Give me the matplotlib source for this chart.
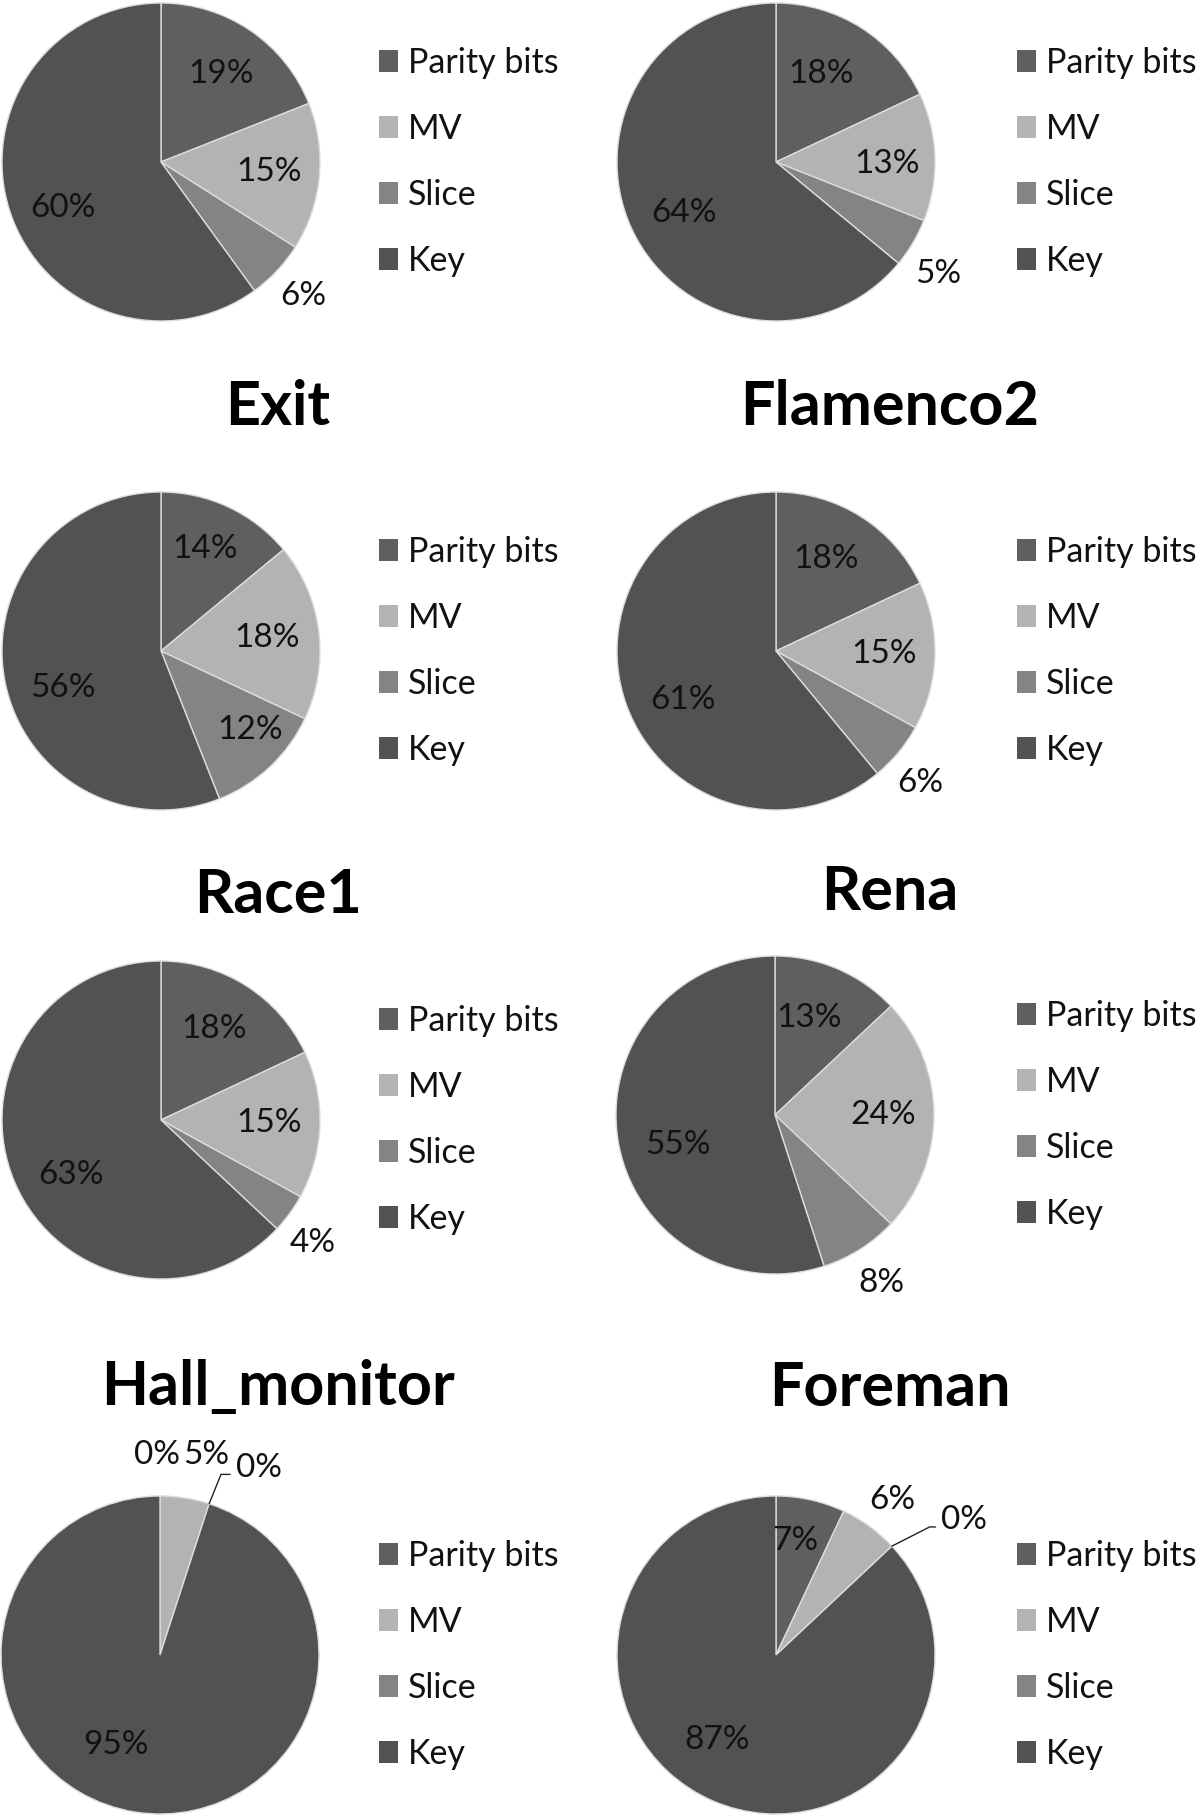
import matplotlib
matplotlib.use('Agg')
import matplotlib.pyplot as plt
import numpy as np

# ---------------- data ----------------
categories = ['Parity bits', 'MV', 'Slice', 'Key']
titles = ['', '', 'Exit', 'Flamenco2', 'Race1', 'Rena', 'Hall_monitor', 'Foreman']
top_left_vals = [19, 15, 6, 60]
top_right_vals = [18, 13, 5, 64]
exit_vals = [14, 18, 12, 56]
flamenco2_vals = [18, 15, 6, 61]
race1_vals = [18, 15, 4, 63]
rena_vals = [13, 24, 8, 55]
hall_monitor_vals = [0, 5, 0, 95]
foreman_vals = [7, 6, 0, 87]
all_vals = [top_left_vals, top_right_vals, exit_vals, flamenco2_vals,
            race1_vals, rena_vals, hall_monitor_vals, foreman_vals]

# ---------------- style / layout ----------------
colors = ['#5f5f5f', '#b3b3b3', '#848484', '#525252']
plt.rcParams['font.family'] = ['Lato', 'DejaVu Sans']
W, H = 1200, 1818
R = 159
centers = [(161, 162), (776, 162), (161, 651), (776, 651),
           (161, 1120), (775, 1115), (160, 1655), (776, 1655)]
legend_x = [379, 1017]
title_pos = [None, None, (278, 407), (890, 407), (278, 895), (890, 892),
             (278, 1387), (890, 1388)]
# label specs: (radius factor, angle offset deg, mode)
label_specs = [
    [(0.67, 0, 'n'), (0.68, 0, 'n'), (1.23, 0, 'n'), (0.68, 7, 'n')],
    [(0.62, 5, 'n'), (0.70, -3, 'n'), (1.24, -4, 'n'), (0.66, 4, 'n')],
    [(0.70, 2, 'n'), (0.67, 0, 'n'), (0.75, 5, 'n'), (0.66, 10, 'n')],
    [(0.66, 4, 'n'), (0.68, 0, 'n'), (1.23, -3, 'n'), (0.66, 8, 'n')],
    [(0.66, 2, 'n'), (0.68, 0, 'n'), (1.23, -3, 'n'), (0.66, 8, 'n')],
    [(0.65, 4, 'n'), (0.68, 0, 'n'), (1.25, 0, 'n'), (0.64, 8, 'n')],
    [(1.26, 1, 'n'), (1.29, -4, 'n'), (1.27, -4, 'lead'), (0.63, -17, 'n')],
    [(0.73, 3, 'n'), (1.22, -1, 'n'), (1.34, -4, 'lead'), (0.65, -11.5, 'n')],
]
lead_bend_angle = {6: 68, 7: 27}
label_fs = 24
legend_fs = 24.5
title_fs = 44
txt_color = '#111111'

fig = plt.figure(figsize=(W / 100, H / 100), dpi=100)
fig.patch.set_facecolor('white')

for k, vals in enumerate(all_vals):
    cx, cy = centers[k]
    ax = fig.add_axes([(cx - R) / W, 1 - (cy + R) / H, 2 * R / W, 2 * R / H])
    wedges, _ = ax.pie(vals, colors=colors, startangle=90, counterclock=False,
                       wedgeprops=dict(edgecolor='#dcdcdc', linewidth=1.0))
    ax.set_xlim(-1, 1)
    ax.set_ylim(-1, 1)
    ax.set_aspect('equal')
    ax.axis('off')

    total = float(sum(vals))
    start = 90.0
    for i, v in enumerate(vals):
        span = 360.0 * v / total
        mid = start - span / 2.0
        r, off, mode = label_specs[k][i]
        ang = np.deg2rad(mid + off)
        tx, ty = r * np.cos(ang), r * np.sin(ang)
        txt = f'{int(round(100 * v / total))}%'
        if mode == 'lead':
            ea = np.deg2rad(mid)
            ax.annotate(txt, xy=(np.cos(ea), np.sin(ea)), xytext=(tx, ty),
                        ha='left', va='center', fontsize=label_fs, color=txt_color,
                        annotation_clip=False,
                        arrowprops=dict(arrowstyle='-', color='#222222', lw=1.0,
                                        connectionstyle=f'angle,angleA=0,angleB={lead_bend_angle[k]},rad=0',
                                        relpos=(0, 0.28), shrinkA=2, shrinkB=0))
        else:
            ax.text(tx, ty, txt, ha='center', va='center', fontsize=label_fs,
                    color=txt_color, clip_on=False)
        start -= span

    lx = legend_x[k % 2]
    ax.legend(wedges, categories, loc='center left',
              bbox_to_anchor=(lx / W, 1 - cy / H), bbox_transform=fig.transFigure,
              frameon=False, fontsize=legend_fs, handlelength=0.56, handleheight=0.58,
              handletextpad=0.3, labelspacing=1.0, borderpad=0, borderaxespad=0,
              labelcolor=txt_color)
    for h in ax.get_legend().legend_handles:
        h.set_edgecolor('none')

    if title_pos[k] is not None:
        tx, ty = title_pos[k]
        fig.text(tx / W, 1 - ty / H, titles[k], ha='center', va='center',
                 fontsize=title_fs, fontweight='bold', color='black')

fig.savefig('out.png', dpi=100, facecolor='white')
